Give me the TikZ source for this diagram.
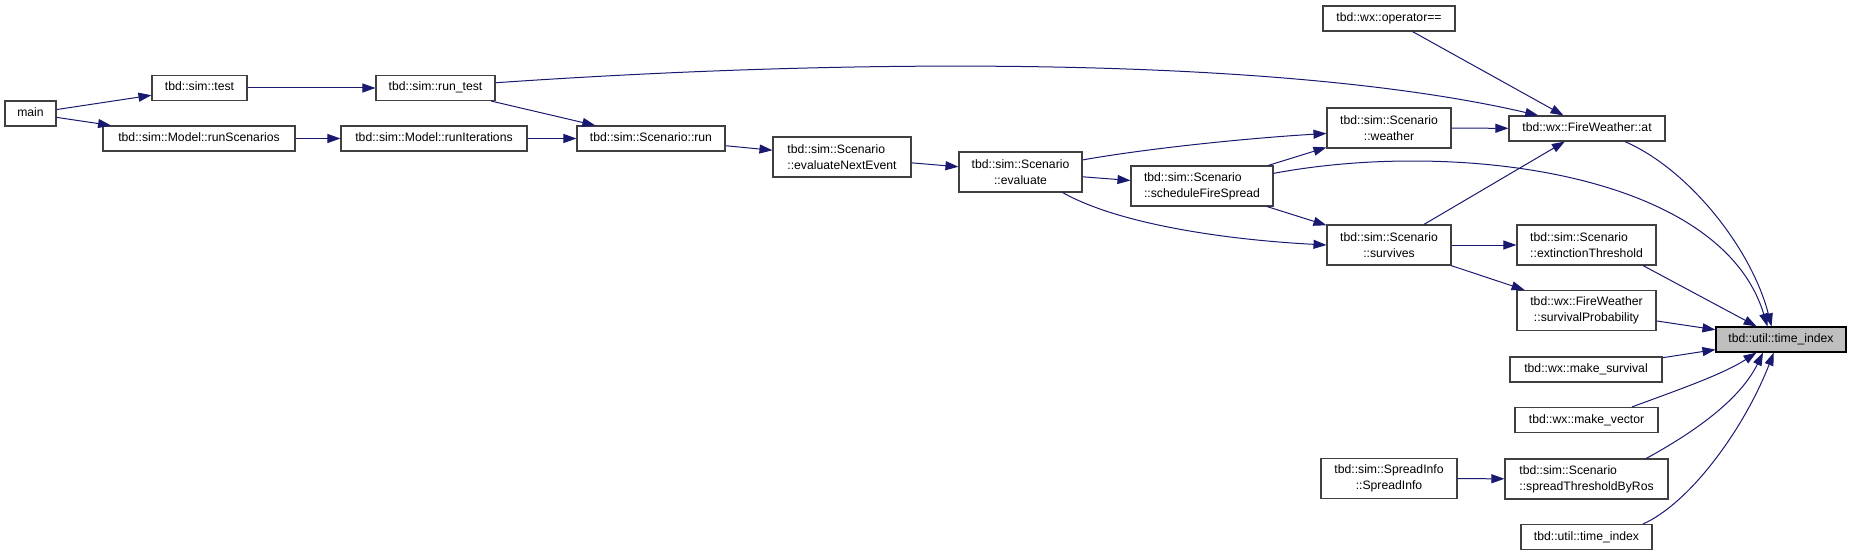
\documentclass[tikz,border=0pt]{standalone}
\usepackage{fontspec}
\setmainfont{Liberation Sans}
\usetikzlibrary{arrows.meta}
\definecolor{CGEdge}{HTML}{191970}
\definecolor{CGLine}{HTML}{404040}
\definecolor{CGRoot}{HTML}{BFBFBF}

\begin{document}
\begin{tikzpicture}[x=1pt,y=-1pt,
  fnbase/.style={draw=CGLine,line width=1.1pt,fill=white,inner xsep=6pt,inner ysep=3pt,font=\fontsize{12.2}{16}\selectfont},
  fn/.style={fnbase,minimum height=25pt,text height=9pt,text depth=3pt},
  fntwo/.style={fnbase,minimum height=40pt},
  fnroot/.style={fn,draw=black,fill=CGRoot},
  call/.style={CGEdge,line width=1pt,-{Triangle[length=13pt,width=9pt]}}]
\path[use as bounding box] (0,0) rectangle (1852,556);
% callers, left to right
\node[fn,minimum width=51] (main) at (30.5,113.5) {main};
\node[fn,minimum width=95] (simTest) at (199.5,88) {tbd::sim::test};
\node[fn,minimum width=192] (runScn) at (199,138.5) {tbd::sim::Model::runScenarios};
\node[fn,minimum width=119] (runTest) at (435.5,88) {tbd::sim::run\_test};
\node[fn,minimum width=186] (runIter) at (434,138.5) {tbd::sim::Model::runIterations};
\node[fn,minimum width=148] (scnRun) at (651,138.5) {tbd::sim::Scenario::run};
\node[fntwo,minimum width=138,align=left] (evalNext) at (842,157) {tbd::sim::Scenario\\::evaluateNextEvent};
\node[fntwo,minimum width=123,align=center] (evaluate) at (1020.5,172) {tbd::sim::Scenario\\::evaluate};
\node[fntwo,minimum width=142,align=left] (sched) at (1202,186) {tbd::sim::Scenario\\::scheduleFireSpread};
\node[fn,minimum width=132] (opEq) at (1389,18.5) {tbd::wx::operator==};
\node[fntwo,minimum width=124,align=center] (weather) at (1389,128) {tbd::sim::Scenario\\::weather};
\node[fntwo,minimum width=124,align=center] (survives) at (1389,245) {tbd::sim::Scenario\\::survives};
\node[fntwo,minimum width=136,align=center] (spreadInfo) at (1389,478.5) {tbd::sim::SpreadInfo\\::SpreadInfo};
\node[fn,minimum width=156] (fwAt) at (1587,128.5) {tbd::wx::FireWeather::at};
\node[fntwo,minimum width=139,align=left] (extThr) at (1586.5,245) {tbd::sim::Scenario\\::extinctionThreshold};
\node[fntwo,minimum width=139,align=center] (survProb) at (1586.5,310.5) {tbd::wx::FireWeather\\::survivalProbability};
\node[fn,minimum width=152] (makeSurv) at (1586,369.5) {tbd::wx::make\_survival};
\node[fn,minimum width=143] (makeVec) at (1586.5,420) {tbd::wx::make\_vector};
\node[fntwo,minimum width=163,align=left] (spreadThr) at (1586.5,479) {tbd::sim::Scenario\\::spreadThresholdByRos};
\node[fn,minimum width=131] (tiSelf) at (1586.5,537) {tbd::util::time\_index};
% the function itself
\node[fnroot,minimum width=130] (ti) at (1781,339.5) {tbd::util::time\_index};
% calls
\draw[call] (main) -- (simTest);
\draw[call] (main) -- (runScn);
\draw[call] (simTest) -- (runTest);
\draw[call] (runScn) -- (runIter);
\draw[call] (runIter) -- (scnRun);
\draw[call] (runTest) -- (scnRun);
\draw[call] (runTest.5) .. controls (900,55) and (1300,60) .. (fwAt.165);
\draw[call] (scnRun) -- (evalNext);
\draw[call] (evalNext) -- (evaluate);
\draw[call] (evaluate.11) .. controls (1150,148) and (1250,138) .. (weather.185);
\draw[call] (evaluate) -- (sched);
\draw[call] (evaluate.-26) .. controls (1120,225) and (1230,240) .. (survives.west);
\draw[call] (sched) -- (weather);
\draw[call] (sched) -- (survives);
\draw[call] (sched.10) .. controls (1450,140) and (1720,170) .. (ti.136);
\draw[call] (weather) -- (fwAt);
\draw[call] (opEq) -- (fwAt);
\draw[call] (survives) -- (fwAt);
\draw[call] (survives) -- (extThr);
\draw[call] (survives) -- (survProb);
\draw[call] (fwAt.341) .. controls (1690,170) and (1752,250) .. (ti.126);
\draw[call] (extThr.-20) -- (ti);
\draw[call] (survProb) -- (ti);
\draw[call] (makeSurv) -- (ti);
\draw[call] (makeVec.16) .. controls (1672,392) and (1722,375) .. (ti.208);
\draw[call] (spreadInfo) -- (spreadThr);
\draw[call] (spreadThr.19) .. controls (1689,435) and (1739,402) .. (ti.216);
\draw[call] (tiSelf.13) .. controls (1690,503) and (1744,429) .. (ti.241);
\end{tikzpicture}
\end{document}
